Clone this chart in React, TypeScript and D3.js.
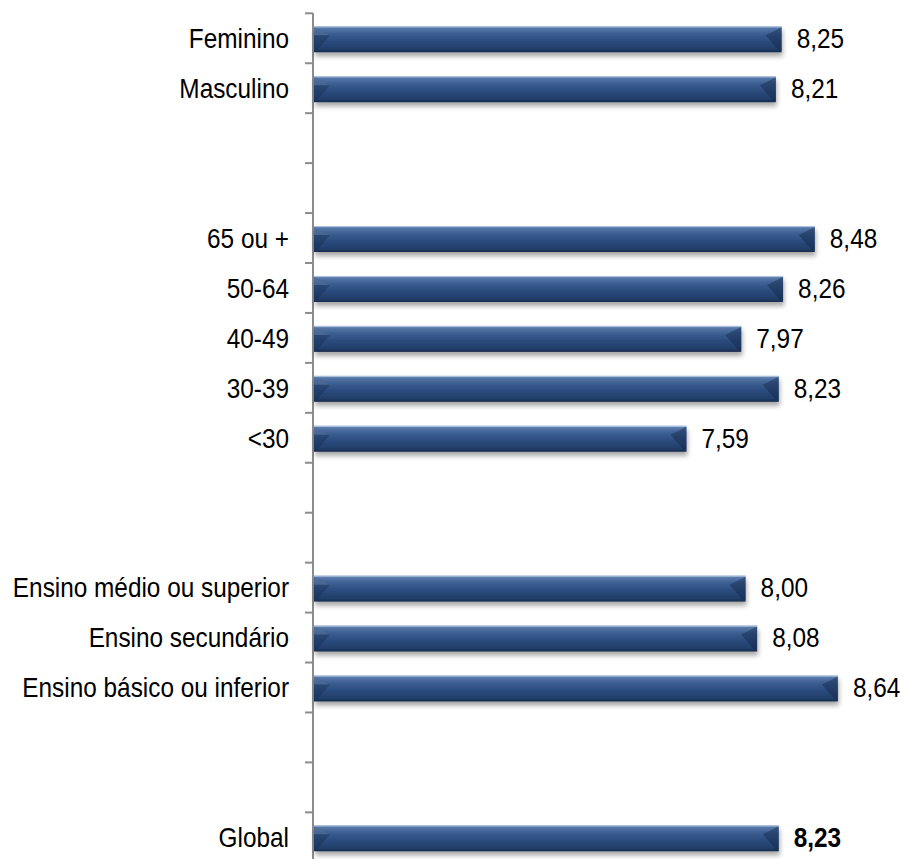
import React from "react";
import * as d3 from "d3";

const categories = [
  "Feminino", "Masculino", "", "",
  "65 ou +", "50-64", "40-49", "30-39", "<30", "", "",
  "Ensino médio ou superior", "Ensino secundário", "Ensino básico ou inferior", "", "",
  "Global",
];
const values: (number | null)[] = [
  8.25, 8.21, null, null,
  8.48, 8.26, 7.97, 8.23, 7.59, null, null,
  8.0, 8.08, 8.64, null, null,
  8.23,
];
const valueLabels = [
  "8,25", "8,21", "", "",
  "8,48", "8,26", "7,97", "8,23", "7,59", "", "",
  "8,00", "8,08", "8,64", "", "",
  "8,23",
];
const boldIndex = 16;

const W = 907;
const H = 859;
const FONT = "'Liberation Sans', Arial, sans-serif";
const SX = 0.87;

export default function App() {
  const idx = categories.map((_, i) => String(i));
  const y = d3.scaleBand<string>().domain(idx).range([13.3, 13.3 + 17 * 49.94]).paddingInner(0.48).paddingOuter(0.24);
  const x = d3.scaleLinear().domain([5, 10]).range([313, 313 + 5 * 144.2]);
  const step = y.step();
  const top = 13.3;
  const ticks = d3.range(0, 18).map((i) => top + i * step);

  return (
    <div style={{ position: "absolute", left: 0, top: 0 }}>
      <svg width={W} height={H} style={{ display: "block", background: "#fff" }}>
        <defs>
          <linearGradient id="barGrad" x1="0" y1="0" x2="0" y2="1">
            <stop offset="0" stopColor="#8aa6cc" />
            <stop offset="0.08" stopColor="#5677a8" />
            <stop offset="0.3" stopColor="#3b5d90" />
            <stop offset="0.6" stopColor="#2a4a7c" />
            <stop offset="0.88" stopColor="#223e69" />
            <stop offset="1" stopColor="#152a4a" />
          </linearGradient>
          <filter id="shadow" x="-5%" y="-30%" width="110%" height="190%">
            <feGaussianBlur in="SourceAlpha" stdDeviation="2.5" />
            <feOffset dx="1" dy="4" result="ob" />
            <feComponentTransfer>
              <feFuncA type="linear" slope="0.35" />
            </feComponentTransfer>
            <feMerge>
              <feMergeNode />
              <feMergeNode in="SourceGraphic" />
            </feMerge>
          </filter>
        </defs>
        {/* axis */}
        <line x1={313} x2={313} y1={top} y2={H} stroke="#8c8c8c" strokeWidth={2} />
        {ticks.map((t, i) => (
          <line key={i} x1={305} x2={313} y1={t} y2={t} stroke="#8c8c8c" strokeWidth={2} />
        ))}
        {categories.map((c, i) => {
          const v = values[i];
          const by = (y(String(i)) as number) + 1;
          const bh = y.bandwidth();
          const cy = top + (i + 0.5) * step;
          return (
            <g key={i}>
              {c && (
                <text transform={`translate(289,${cy}) scale(${SX},1)`} dy="0.35em" textAnchor="end" fontFamily={FONT} fontSize={28} fill="#000">
                  {c}
                </text>
              )}
              {v != null && (() => {
                const x0 = x(5) + 1;
                const x1 = x(v);
                const b = 10;
                return (
                  <g>
                    <g filter="url(#shadow)">
                      <rect x={x0} y={by} width={x1 - x0} height={bh} fill="url(#barGrad)" />
                    </g>
                    <polygon points={`${x0},${by + 1} ${x0 + b * 1.6},${by + 1 + b * 0.8} ${x0 + b * 0.3},${by + bh - 2} ${x0},${by + bh - 2}`} fill="#12284a" opacity={0.35} />
                    <polygon points={`${x0},${by + 1} ${x0 + b * 1.6},${by + 1 + b * 0.8} ${x0},${by + b * 0.9}`} fill="#7f9cc6" opacity={0.35} />
                    <polygon points={`${x1},${by + 1} ${x1 - b * 1.6},${by + 1 + b * 0.8} ${x1 - b * 0.3},${by + bh - 2} ${x1},${by + bh - 2}`} fill="#12284a" opacity={0.45} />
                    <line x1={x0} x2={x1} y1={by + 0.5} y2={by + 0.5} stroke="#aec3e0" strokeWidth={1} />
                    <text transform={`translate(${x1 + 15},${cy}) scale(${SX},1)`} dy="0.35em" fontFamily={FONT} fontSize={28} fontWeight={i === boldIndex ? "bold" : "normal"} fill="#000">
                      {valueLabels[i]}
                    </text>
                  </g>
                );
              })()}
            </g>
          );
        })}
      </svg>
    </div>
  );
}
